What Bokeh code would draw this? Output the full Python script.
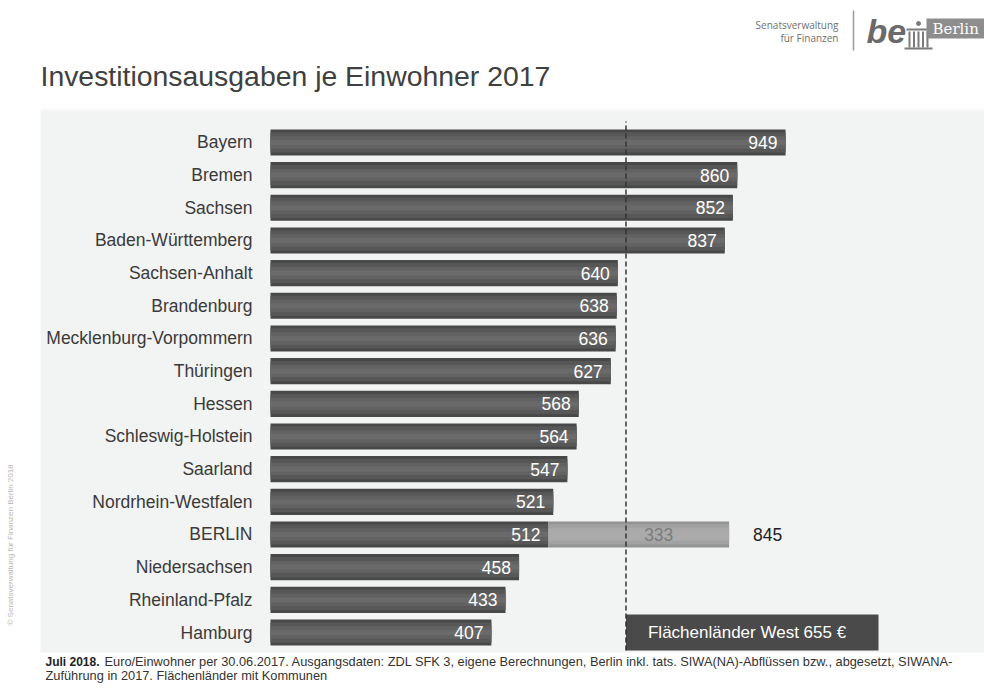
from bokeh.plotting import figure
from bokeh.models import Range1d, Label, ColumnDataSource
from bokeh.core.properties import value
from bokeh.embed import file_html
from bokeh.resources import INLINE

# ---------------- data ----------------
laender = ["Bayern", "Bremen", "Sachsen", "Baden-Württemberg", "Sachsen-Anhalt",
           "Brandenburg", "Mecklenburg-Vorpommern", "Thüringen", "Hessen",
           "Schleswig-Holstein", "Saarland", "Nordrhein-Westfalen", "BERLIN",
           "Niedersachsen", "Rheinland-Pfalz", "Hamburg"]
ausgaben = [949, 860, 852, 837, 640, 638, 636, 627, 568, 564, 547, 521, 512, 458, 433, 407]
berlin_siwa = 333
berlin_gesamt = 845
west_durchschnitt = 655

titel = "Investitionsausgaben je Einwohner 2017"
fuss_fett = "Juli 2018."
fuss_1 = ("Euro/Einwohner per 30.06.2017. Ausgangsdaten: ZDL SFK 3, eigene Berechnungen, "
          "Berlin inkl. tats. SIWA(NA)-Abflüssen bzw., abgesetzt, SIWANA-")
fuss_2 = "Zuführung  in 2017. Flächenländer mit Kommunen"
copyright_txt = "© Senatsverwaltung für Finanzen Berlin 2018"

FONT_NAME = "Liberation Sans"
FONT = value(FONT_NAME)

W, H = 984, 688
X_START, X_END = -497.5, 1315.6
Y_START, Y_END = -1.714, 19.345


def X(px):
    return X_START + px / W * (X_END - X_START)


def Y(py):
    return Y_END - py / H * (Y_END - Y_START)


n = len(laender)
ypos = [n - 1 - i for i in range(n)]
src = ColumnDataSource(dict(land=laender, wert=ausgaben, y=ypos,
                            lbl=[str(v) for v in ausgaben]))

p = figure(width=W, height=H, output_backend="svg", toolbar_location=None,
           x_range=Range1d(X_START, X_END), y_range=Range1d(Y_START, Y_END),
           x_axis_type=None, y_axis_type=None,
           min_border_left=0, min_border_right=0, min_border_top=0, min_border_bottom=0,
           background_fill_color="white", border_fill_color="white",
           outline_line_color=None)
p.grid.visible = False

# grey panel behind the chart
p.quad(left=[X(40)], right=[X(984)], top=[Y(110)], bottom=[Y(652)],
       fill_color="#f2f3f3", line_color=None)
p.quad(left=[X(40)], right=[X(984)], top=[Y(108)], bottom=[Y(110)],
       fill_color="#f7f7f7", line_color=None)

# main bars (layered for a shaded look)
p.hbar(y="y", left=0, right="wert", height=0.8, fill_color="#484848", line_color=None, source=src)
p.hbar(y="y", left=0, right="wert", height=0.62, fill_color="#575757", line_color=None, source=src)
p.hbar(y="y", left=0, right="wert", height=0.38, fill_color="#626262", line_color=None, source=src)
p.hbar(y="y", left=0, right="wert", height=0.16, fill_color="#6a6a6a", line_color=None, source=src)

# Berlin SIWA extension
bi = laender.index("BERLIN")
by = ypos[bi]
bl = ausgaben[bi]
p.hbar(y=[by], left=[bl], right=[bl + berlin_siwa], height=0.8, fill_color="#939393", line_color=None)
p.hbar(y=[by], left=[bl], right=[bl + berlin_siwa], height=0.62, fill_color="#a2a2a2", line_color=None)
p.hbar(y=[by], left=[bl], right=[bl + berlin_siwa], height=0.38, fill_color="#aaaaaa", line_color=None)

# category labels
p.text(x=0, y="y", text="land", source=src, x_offset=-18, text_align="right",
       text_baseline="middle", text_font=FONT, text_font_size="17.5px", text_color="#3a3a3a")
# value labels
p.text(x="wert", y="y", text="lbl", source=src, x_offset=-8, text_align="right",
       text_baseline="middle", text_font=FONT, text_font_size="17.5px", text_color="white")
p.text(x=[bl + berlin_siwa / 2], y=[by], text=[str(berlin_siwa)], x_offset=20,
       text_align="center", text_baseline="middle", text_font=FONT,
       text_font_size="17.5px", text_color="#7c7c7c")
p.text(x=[berlin_gesamt], y=[by], text=[str(berlin_gesamt)], x_offset=24,
       text_align="left", text_baseline="middle", text_font=FONT,
       text_font_size="17.5px", text_color="#222222")

# Flächenländer West box
p.quad(left=[west_durchschnitt], right=[X(878)], bottom=[Y(650)], top=[Y(614)],
       fill_color="#4a4a4a", line_color=None)
p.text(x=[west_durchschnitt], y=[0], text=[f"Flächenländer West  {west_durchschnitt} €"],
       x_offset=22, text_align="left", text_baseline="middle", text_font=FONT,
       text_font_size="17px", text_color="white")

# dashed reference line
p.segment(x0=[west_durchschnitt], x1=[west_durchschnitt], y0=[Y(650)], y1=[Y(121)],
          line_color="#333333", line_width=1.5, line_dash="5 3")


# ---------------- title / footnote / copyright (screen units: x from left, y from bottom)
def lab(x, y, text, size, color="#333333", style="normal", font=FONT_NAME, align="left",
        baseline="alphabetic", angle=0.0, **kw):
    p.add_layout(Label(x=x, y=H - y, x_units="screen", y_units="screen", text=text,
                       text_font=font, text_font_size=size, text_color=color,
                       text_font_style=style, text_align=align, text_baseline=baseline,
                       angle=angle, **kw))


lab(40, 75, titel, "28.4px", color="#404040")
lab(45, 661, fuss_fett, "12px", color="#222222", style="bold")
lab(104, 661, fuss_1, "12.8px")
lab(45, 675, fuss_2, "12.8px")
lab(10, 625, copyright_txt, "8px", color="#b8b8b8", baseline="middle", angle=1.5708)

# ---------------- logo ----------------
lab(838, 24, "Senatsverwaltung", "10px", color="#707070", font="Open Sans", align="right")
lab(838, 37, "für Finanzen", "10px", color="#707070", font="Open Sans", align="right")
p.segment(x0=[X(853)], x1=[X(853)], y0=[Y(10)], y1=[Y(50)], line_color="#9a9a9a", line_width=1.5)
lab(866, 30, "be", "34px", color="#6a6a6a", style="bold italic")
# little columns icon
p.segment(x0=[X(906)], x1=[X(930)], y0=[Y(29)], y1=[Y(29)], line_color="#7a7a7a", line_width=2)
p.segment(x0=[X(904)], x1=[X(932)], y0=[Y(48)], y1=[Y(48)], line_color="#7a7a7a", line_width=2)
for cx in (909, 913.5, 918, 922.5, 927):
    p.segment(x0=[X(cx)], x1=[X(cx)], y0=[Y(31)], y1=[Y(47)], line_color="#7a7a7a", line_width=2)
p.scatter(x=[X(918)], y=[Y(23)], size=4, color="#7a7a7a")
p.quad(left=[X(926)], right=[X(984)], top=[Y(18)], bottom=[Y(38)],
       fill_color="#8d8d8d", line_color=None)
lab(932, 28, "Berlin", "15px", color="white", font="DejaVu Serif")

open("out.html", "w").write(file_html(p, INLINE))
